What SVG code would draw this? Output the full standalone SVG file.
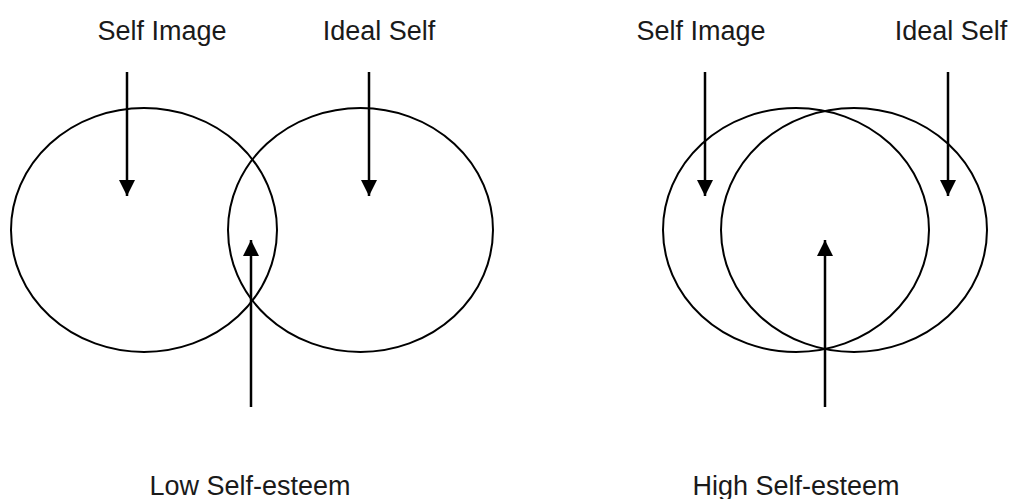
<svg xmlns="http://www.w3.org/2000/svg" width="1012" height="499" viewBox="0 0 1012 499">
  <style>
    .ell { fill: none; stroke: #000; stroke-width: 2; }
    .arr { fill: none; stroke: #000; stroke-width: 2.5; marker-end: url(#head); }
    .lbl { font-family: "Liberation Sans", Arial, sans-serif; font-size: 27px; fill: #1a1a1a; text-anchor: middle; }
  </style>
  <defs>
    <marker id="head" markerUnits="userSpaceOnUse" markerWidth="16" markerHeight="16" refX="16" refY="8" orient="auto">
      <path d="M0,0 L16,8 L0,16 Z" fill="#000"/>
    </marker>
  </defs>
  <rect width="1012" height="499" fill="#fff"/>

  <g id="low-self-image">
    <ellipse class="ell" cx="144" cy="230" rx="133" ry="122"/>
    <text class="lbl" x="162" y="40">Self Image</text>
  </g>
  <g id="low-ideal-self">
    <ellipse class="ell" cx="360.500" cy="230" rx="132.500" ry="122"/>
    <text class="lbl" x="379" y="40">Ideal Self</text>
  </g>
  <g id="low-self-esteem">
    <text class="lbl" x="250" y="495">Low Self-esteem</text>
  </g>

  <g id="high-self-image">
    <ellipse class="ell" cx="796" cy="230" rx="133" ry="122"/>
    <text class="lbl" x="701" y="40">Self Image</text>
  </g>
  <g id="high-ideal-self">
    <ellipse class="ell" cx="854" cy="230" rx="133" ry="122"/>
    <text class="lbl" x="951" y="40">Ideal Self</text>
  </g>
  <g id="high-self-esteem">
    <text class="lbl" x="796" y="495">High Self-esteem</text>
  </g>

  <g id="connectors">
    <line class="arr" x1="127" y1="72" x2="127" y2="196"/>
    <line class="arr" x1="369" y1="72" x2="369" y2="196"/>
    <line class="arr" x1="251" y1="407" x2="251" y2="240"/>
    <line class="arr" x1="705" y1="72" x2="705" y2="196"/>
    <line class="arr" x1="948" y1="72" x2="948" y2="196"/>
    <line class="arr" x1="825" y1="407" x2="825" y2="240"/>
  </g>
</svg>
